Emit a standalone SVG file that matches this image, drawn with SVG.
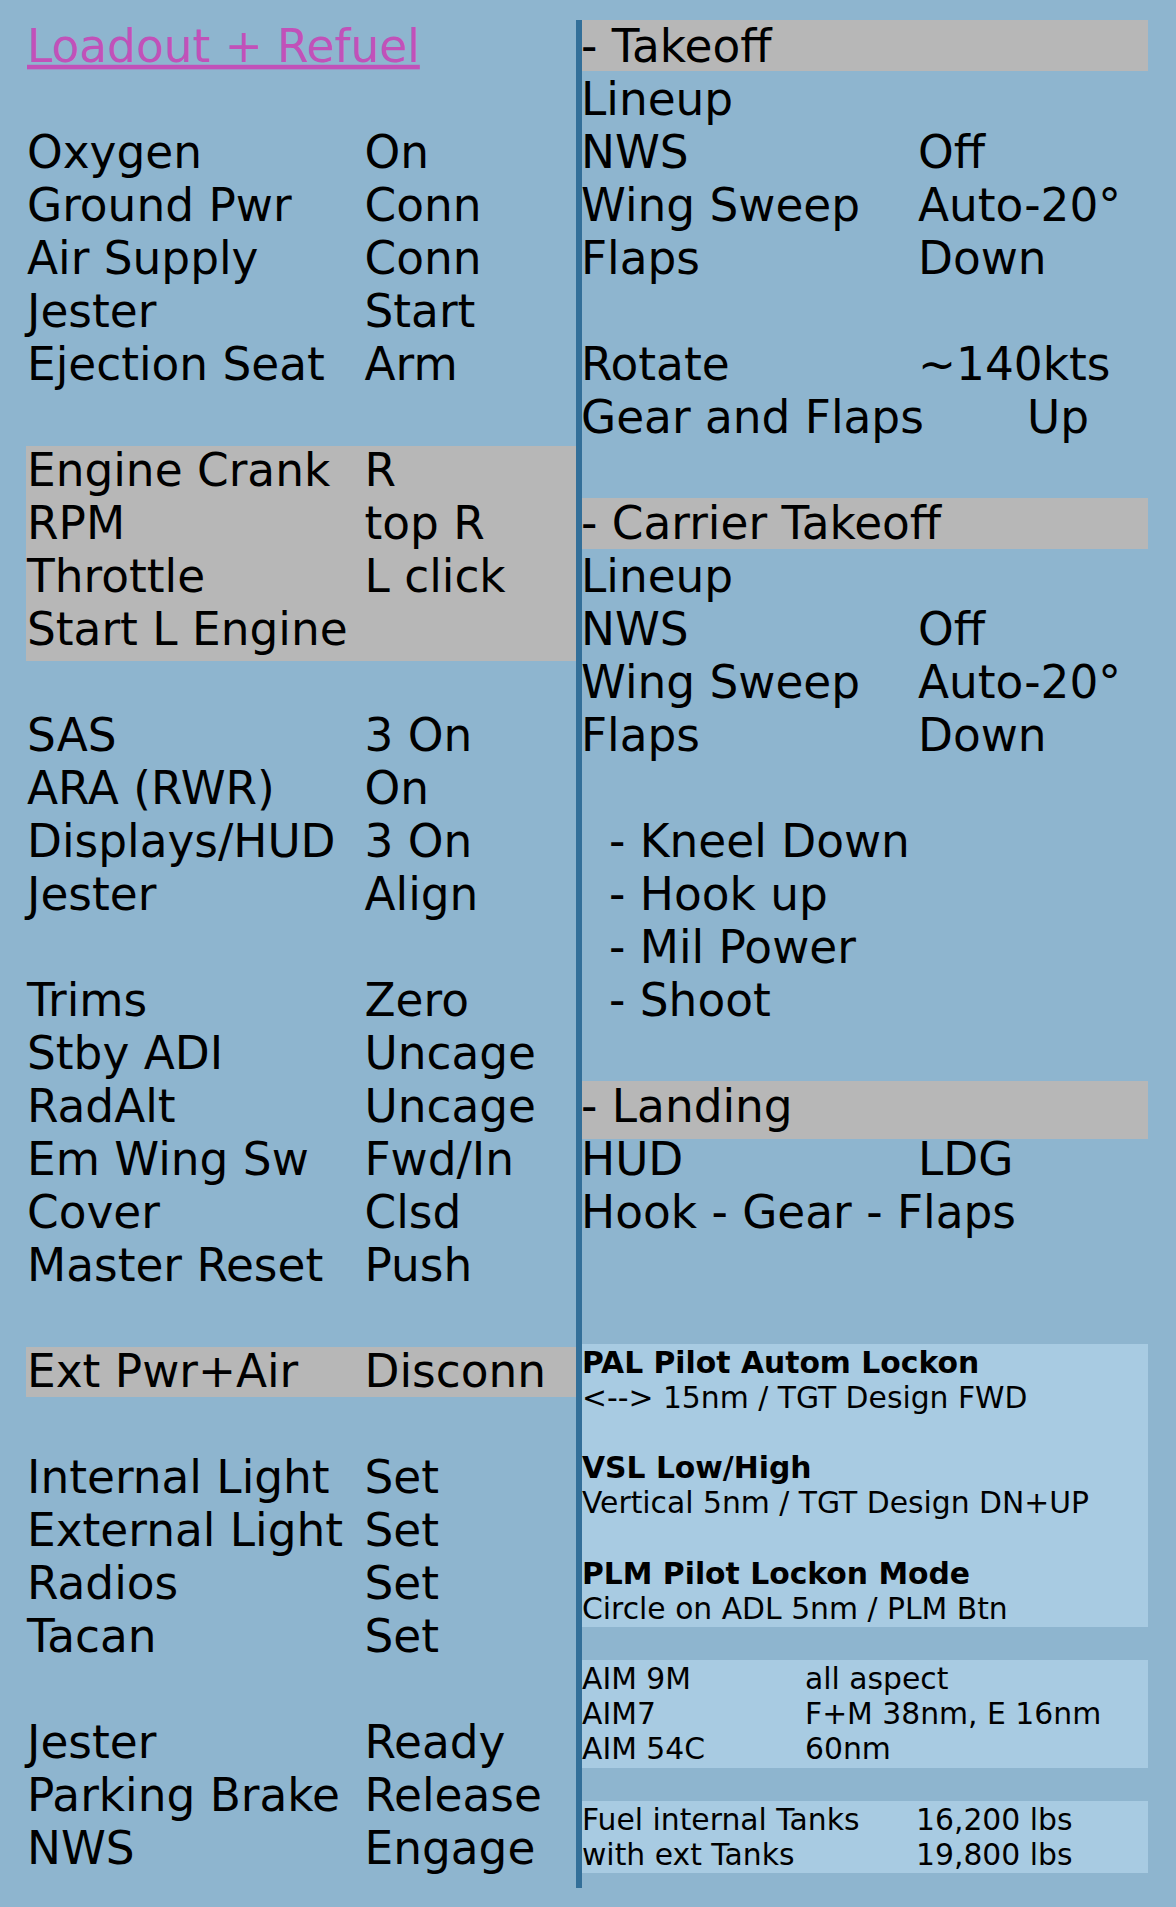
<svg xmlns="http://www.w3.org/2000/svg" width="1176" height="1907" viewBox="0 0 1176 1907">
  <style>
    text { font-family: "DejaVu Sans", "Liberation Sans", sans-serif; fill: #000000; }
    .big { font-size: 45.4px; }
    .sm { font-size: 29.8px; }
    .b { font-weight: bold; }
    .title { fill: #c151b9; text-decoration: underline; }
    .band { fill: #b7b7b7; }
    .box { fill: #a8cbe2; }
  </style>
  <rect x="0" y="0" width="1176" height="1907" fill="#8eb5cf"/>

  <g id="bands">
    <rect class="band" x="26" y="446" width="550" height="215"/>
    <rect class="band" x="26" y="1347" width="550" height="50"/>
    <rect class="band" x="582" y="20" width="566" height="51"/>
    <rect class="band" x="582" y="498" width="566" height="51"/>
    <rect class="band" x="582" y="1081" width="566" height="58"/>
    <rect class="box" x="582" y="1344" width="566" height="283"/>
    <rect class="box" x="582" y="1660" width="566" height="108"/>
    <rect class="box" x="582" y="1801" width="566" height="72"/>
  </g>

  <g id="divider">
    <rect x="576" y="20" width="6" height="1868" fill="#336f99"/>
  </g>

  <g id="left-column">
    <text class="big title" x="27" y="61.8">Loadout + Refuel</text>
    <g id="prep">
      <text class="big" x="27" y="167.8">Oxygen</text><text class="big" x="364.5" y="167.8">On</text>
      <text class="big" x="27" y="220.8">Ground Pwr</text><text class="big" x="364.5" y="220.8">Conn</text>
      <text class="big" x="27" y="273.8">Air Supply</text><text class="big" x="364.5" y="273.8">Conn</text>
      <text class="big" x="27" y="326.8">Jester</text><text class="big" x="364.5" y="326.8">Start</text>
      <text class="big" x="27" y="379.8">Ejection Seat</text><text class="big" x="364.5" y="379.8">Arm</text>
    </g>
    <g id="engine">
      <text class="big" x="27" y="485.8">Engine Crank</text><text class="big" x="364.5" y="485.8">R</text>
      <text class="big" x="27" y="538.8">RPM</text><text class="big" x="364.5" y="538.8">top R</text>
      <text class="big" x="27" y="591.8">Throttle</text><text class="big" x="364.5" y="591.8">L click</text>
      <text class="big" x="27" y="644.8">Start L Engine</text>
    </g>
    <g id="systems">
      <text class="big" x="27" y="750.8">SAS</text><text class="big" x="364.5" y="750.8">3 On</text>
      <text class="big" x="27" y="803.8">ARA (RWR)</text><text class="big" x="364.5" y="803.8">On</text>
      <text class="big" x="27" y="856.8">Displays/HUD</text><text class="big" x="364.5" y="856.8">3 On</text>
      <text class="big" x="27" y="909.8">Jester</text><text class="big" x="364.5" y="909.8">Align</text>
    </g>
    <g id="trims">
      <text class="big" x="27" y="1015.8">Trims</text><text class="big" x="364.5" y="1015.8">Zero</text>
      <text class="big" x="27" y="1068.8">Stby ADI</text><text class="big" x="364.5" y="1068.8">Uncage</text>
      <text class="big" x="27" y="1121.8">RadAlt</text><text class="big" x="364.5" y="1121.8">Uncage</text>
      <text class="big" x="27" y="1174.8">Em Wing Sw</text><text class="big" x="364.5" y="1174.8">Fwd/In</text>
      <text class="big" x="27" y="1227.8">Cover</text><text class="big" x="364.5" y="1227.8">Clsd</text>
      <text class="big" x="27" y="1280.8">Master Reset</text><text class="big" x="364.5" y="1280.8">Push</text>
    </g>
    <g id="extpwr">
      <text class="big" x="27" y="1386.8">Ext Pwr+Air</text><text class="big" x="364.5" y="1386.8">Disconn</text>
    </g>
    <g id="lights">
      <text class="big" x="27" y="1492.8">Internal Light</text><text class="big" x="364.5" y="1492.8">Set</text>
      <text class="big" x="27" y="1545.8">External Light</text><text class="big" x="364.5" y="1545.8">Set</text>
      <text class="big" x="27" y="1598.8">Radios</text><text class="big" x="364.5" y="1598.8">Set</text>
      <text class="big" x="27" y="1651.8">Tacan</text><text class="big" x="364.5" y="1651.8">Set</text>
    </g>
    <g id="taxi">
      <text class="big" x="27" y="1757.8">Jester</text><text class="big" x="364.5" y="1757.8">Ready</text>
      <text class="big" x="27" y="1810.8">Parking Brake</text><text class="big" x="364.5" y="1810.8">Release</text>
      <text class="big" x="27" y="1863.8">NWS</text><text class="big" x="364.5" y="1863.8">Engage</text>
    </g>
  </g>

  <g id="right-column">
    <g id="takeoff">
      <text class="big" x="581" y="61.8">- Takeoff</text>
      <text class="big" x="581" y="114.8">Lineup</text>
      <text class="big" x="581" y="167.8">NWS</text><text class="big" x="918" y="167.8">Off</text>
      <text class="big" x="581" y="220.8">Wing Sweep</text><text class="big" x="918" y="220.8">Auto-20°</text>
      <text class="big" x="581" y="273.8">Flaps</text><text class="big" x="918" y="273.8">Down</text>
      <text class="big" x="581" y="379.8">Rotate</text><text class="big" x="918" y="379.8">~140kts</text>
      <text class="big" x="581" y="432.8">Gear and Flaps</text><text class="big" x="1027" y="432.8">Up</text>
    </g>
    <g id="carrier-takeoff">
      <text class="big" x="581" y="538.8">- Carrier Takeoff</text>
      <text class="big" x="581" y="591.8">Lineup</text>
      <text class="big" x="581" y="644.8">NWS</text><text class="big" x="918" y="644.8">Off</text>
      <text class="big" x="581" y="697.8">Wing Sweep</text><text class="big" x="918" y="697.8">Auto-20°</text>
      <text class="big" x="581" y="750.8">Flaps</text><text class="big" x="918" y="750.8">Down</text>
      <text class="big" x="609" y="856.8">- Kneel Down</text>
      <text class="big" x="609" y="909.8">- Hook up</text>
      <text class="big" x="609" y="962.8">- Mil Power</text>
      <text class="big" x="609" y="1015.8">- Shoot</text>
    </g>
    <g id="landing">
      <text class="big" x="581" y="1121.8">- Landing</text>
      <text class="big" x="581" y="1174.8">HUD</text><text class="big" x="918" y="1174.8">LDG</text>
      <text class="big" x="581" y="1227.8">Hook - Gear - Flaps</text>
    </g>
    <g id="radar-modes">
      <text class="sm b" x="582" y="1372.8">PAL Pilot Autom Lockon</text>
      <text class="sm" x="582" y="1407.95">&lt;--&gt; 15nm / TGT Design FWD</text>
      <text class="sm b" x="582" y="1478.25">VSL Low/High</text>
      <text class="sm" x="582" y="1513.4">Vertical 5nm / TGT Design DN+UP</text>
      <text class="sm b" x="582" y="1583.7">PLM Pilot Lockon Mode</text>
      <text class="sm" x="582" y="1618.85">Circle on ADL 5nm / PLM Btn</text>
    </g>
    <g id="missiles">
      <text class="sm" x="582" y="1689.15">AIM 9M</text><text class="sm" x="805" y="1689.15">all aspect</text>
      <text class="sm" x="582" y="1724.3">AIM7</text><text class="sm" x="805" y="1724.3">F+M 38nm, E 16nm</text>
      <text class="sm" x="582" y="1759.45">AIM 54C</text><text class="sm" x="805" y="1759.45">60nm</text>
    </g>
    <g id="fuel">
      <text class="sm" x="582" y="1829.75">Fuel internal Tanks</text><text class="sm" x="916" y="1829.75">16,200 lbs</text>
      <text class="sm" x="582" y="1864.9">with ext Tanks</text><text class="sm" x="916" y="1864.9">19,800 lbs</text>
    </g>
  </g>
</svg>
